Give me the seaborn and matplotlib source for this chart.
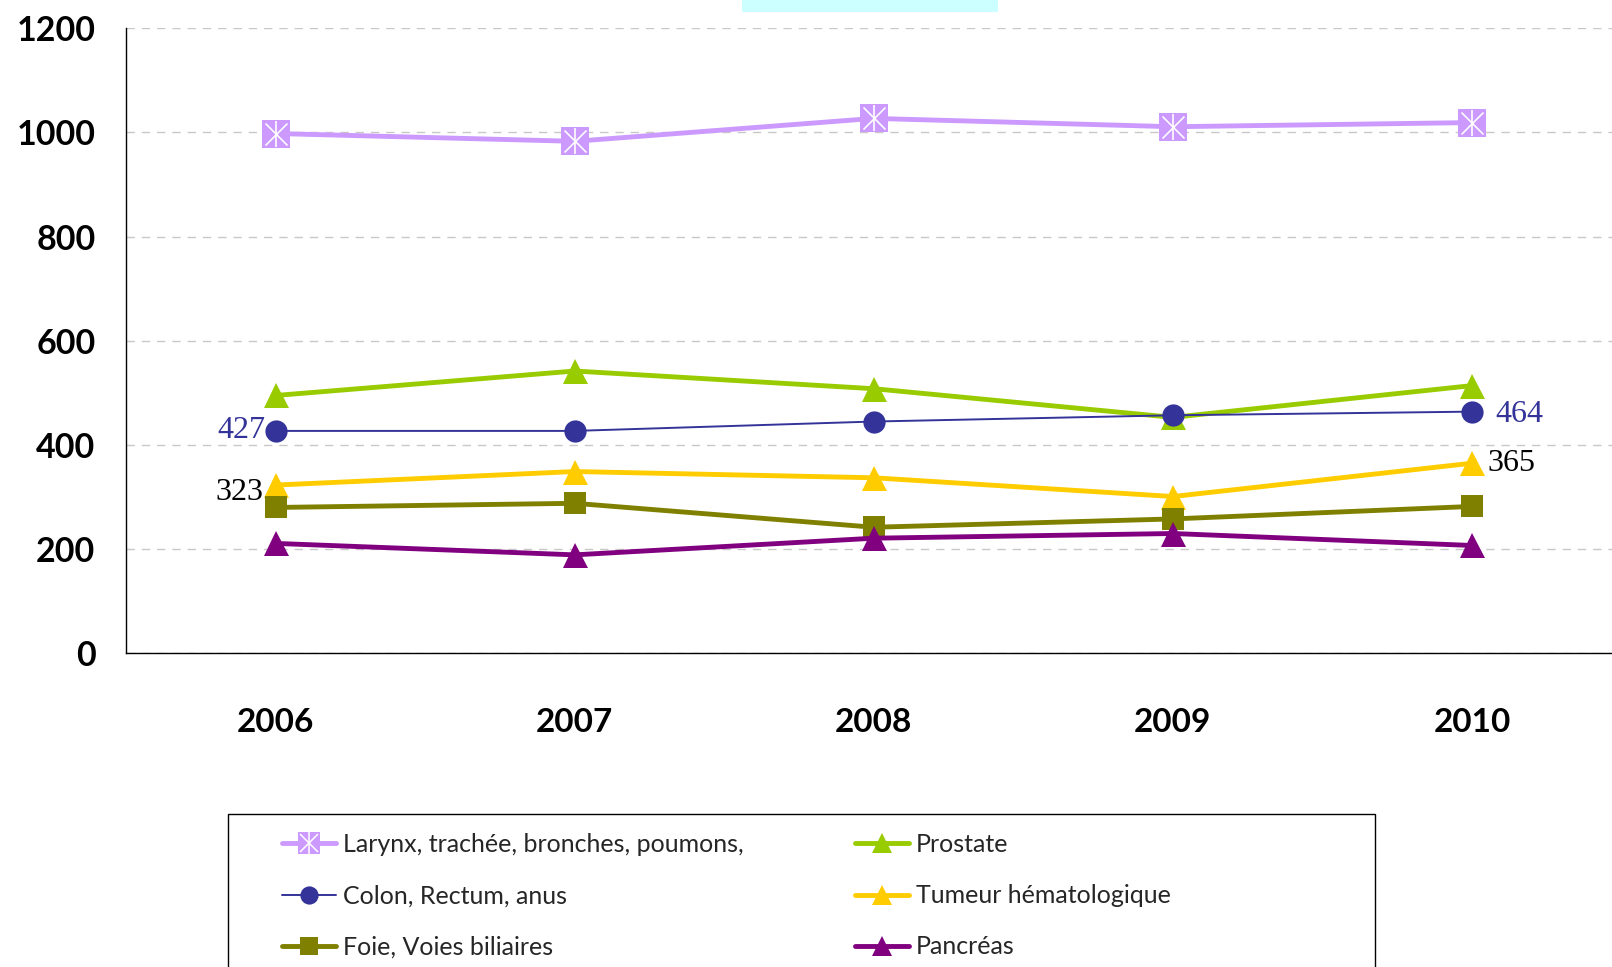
import matplotlib
matplotlib.use('Agg')
import matplotlib.pyplot as plt
import seaborn as sns
import pandas as pd
from matplotlib.patches import Rectangle
from matplotlib.lines import Line2D
from matplotlib.ticker import FixedLocator
from matplotlib.legend_handler import HandlerTuple

years = ["2006", "2007", "2008", "2009", "2010"]

larynx = [998, 983, 1027, 1011, 1019]
prostate = [495, 542, 508, 453, 514]
colon = [427, 427, 445, 457, 464]
tumeur = [323, 349, 337, 301, 365]
foie = [280, 288, 242, 258, 282]
pancreas = [211, 189, 221, 230, 207]

# name, values, colour, marker, marker size, line width
series = [
    ("Larynx, trachée, bronches, poumons,", larynx, "#CC99FF", "s", 19.5, 3.5),
    ("Prostate", prostate, "#99CC00", "^", 18, 3.5),
    ("Colon, Rectum, anus", colon, "#333399", "o", 16, 1.4),
    ("Tumeur hématologique", tumeur, "#FFCC00", "^", 18, 3.5),
    ("Foie, Voies biliaires", foie, "#808000", "s", 16.5, 3.5),
    ("Pancréas", pancreas, "#800080", "^", 18, 3.5),
]

sns.set_style("white")
plt.rcParams['font.family'] = ['Lato', 'DejaVu Sans']

W, H = 1612, 967
fig = plt.figure(figsize=(W / 100, H / 100), dpi=100)
# right end of the x axis runs past the figure edge, as in the source
ax = fig.add_axes([126 / W, 1 - 653.3 / H, (1621.6 - 126) / W, (653.3 - 28.3) / H])

handles = {}
for name, vals, color, marker, ms, lw in series:
    df = pd.DataFrame({"year": years, "value": vals})
    sns.lineplot(data=df, x="year", y="value", ax=ax, color=color, marker=marker,
                 markersize=ms, linewidth=lw, markeredgewidth=0, label=name)
    handles[name] = ax.get_lines()[-1]

# white asterisk inside the larynx squares
lar_df = pd.DataFrame({"year": years, "value": larynx})
sns.scatterplot(data=lar_df, x="year", y="value", ax=ax, marker="x", s=250,
                color="white", linewidth=1.2, zorder=5, legend=False)
sns.scatterplot(data=lar_df, x="year", y="value", ax=ax, marker="|", s=360,
                color="white", linewidth=1.2, zorder=5, legend=False)

ax.set_xlim(-0.5, 4.5)
ax.set_ylim(0, 1200)
ax.set_yticks(range(0, 1201, 200))
ax.set_xticks(range(len(years)))
ax.set_xticklabels(years)
ax.xaxis.set_minor_locator(FixedLocator([i - 0.5 for i in range(len(years) + 1)]))
ax.tick_params(axis='x', which='major', length=0, pad=39.5, labelsize=24)
ax.tick_params(axis='x', which='minor', length=10, width=1, color='black', direction='out')
ax.tick_params(axis='y', length=9, width=1, color='black', direction='out', pad=13, labelsize=24.5)
for lab in ax.get_xticklabels() + ax.get_yticklabels():
    lab.set_fontweight('bold')
    lab.set_color('black')
ax.set_xlabel("")
ax.set_ylabel("")

ax.yaxis.grid(True, linestyle=(0, (6, 5)), color='#C8C8C8', linewidth=1)
ax.set_axisbelow(True)
for s in ["top", "right"]:
    ax.spines[s].set_visible(False)
for s in ["left", "bottom"]:
    ax.spines[s].set_color("black")
    ax.spines[s].set_linewidth(1)

# data labels
lab_font = dict(family="Liberation Serif", fontsize=23)
ax.annotate(str(colon[0]), (0, colon[0]), xytext=(-7, 0), textcoords='offset points',
            ha='right', va='center', color="#333399", **lab_font)
ax.annotate(str(colon[-1]), (4, colon[-1]), xytext=(17, -2), textcoords='offset points',
            ha='left', va='center', color="#333399", **lab_font)
ax.annotate(str(tumeur[0]), (0, tumeur[0]), xytext=(-9, -5), textcoords='offset points',
            ha='right', va='center', color="black", **lab_font)
ax.annotate(str(tumeur[-1]), (4, tumeur[-1]), xytext=(11, 0), textcoords='offset points',
            ha='left', va='center', color="black", **lab_font)

# legend: two frameless columns inside a hand-drawn frame that runs off the bottom
ax.get_legend().remove()
star1 = Line2D([], [], marker='x', color='white', linestyle='none', markersize=15.5, markeredgewidth=1.1)
star2 = Line2D([], [], marker='|', color='white', linestyle='none', markersize=19, markeredgewidth=1.1)
columns = [([0, 2, 4], 282), ([1, 3, 5], 855)]
for idx, x0 in columns:
    hs, ls = [], []
    for i in idx:
        name = series[i][0]
        h = handles[name]
        hs.append((h, star1, star2) if i == 0 else h)
        ls.append(name)
    leg = fig.legend(hs, ls, loc='upper left', bbox_to_anchor=(x0 / W, 1 - 833 / H),
                     bbox_transform=fig.transFigure, fontsize=18, frameon=False,
                     handlelength=2.15, handletextpad=0.28, labelspacing=1.13,
                     borderpad=0, borderaxespad=0, markerscale=0.82,
                     handler_map={tuple: HandlerTuple(ndivide=1)})

fig.add_artist(Rectangle((228 / W, -0.05), (1375 - 228) / W, 1 - 814 / H + 0.05,
                         transform=fig.transFigure, facecolor='none',
                         edgecolor='black', linewidth=1))

# cut-off title box at top
fig.add_artist(Rectangle((742 / W, 1 - 12 / H), 256 / W, 12 / H,
                         transform=fig.transFigure, facecolor="#CCFFFF",
                         edgecolor='none'))

fig.savefig("out.png", dpi=100)
